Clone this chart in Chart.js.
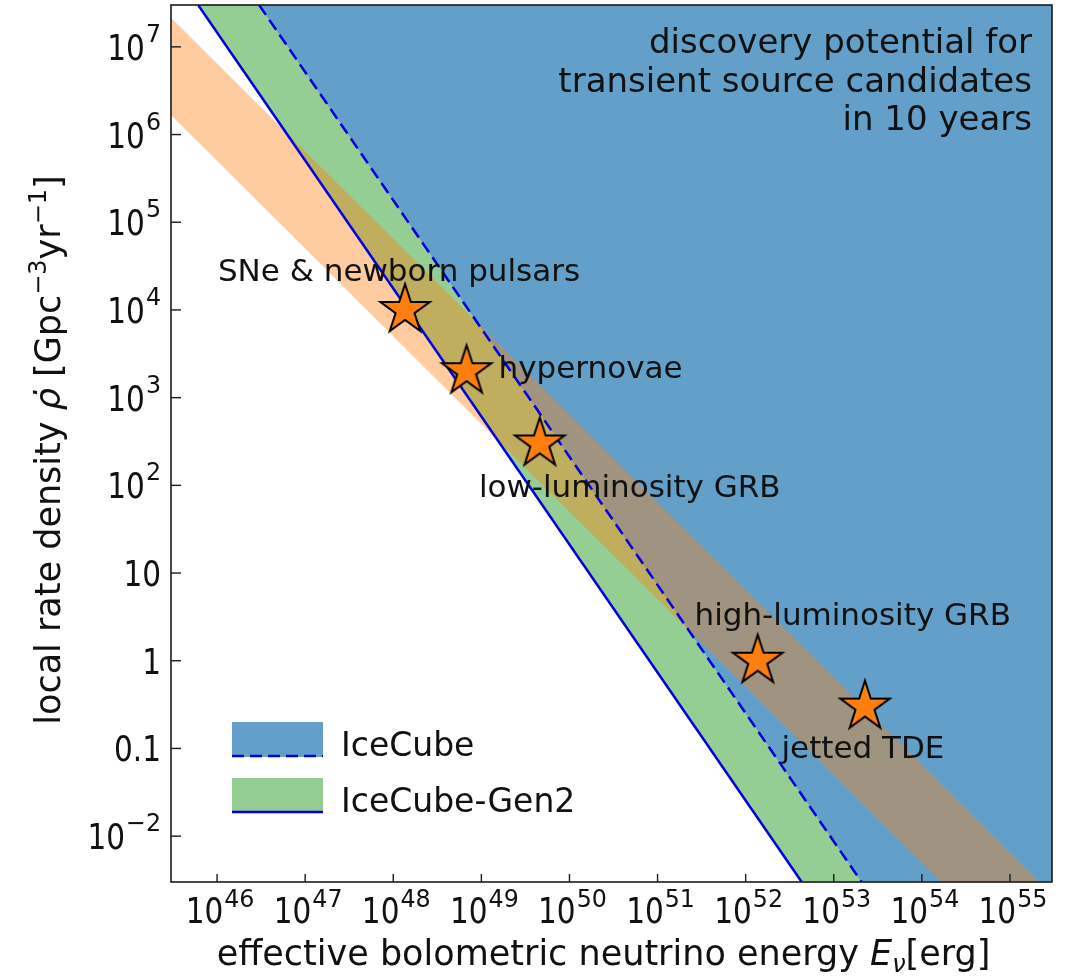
<!DOCTYPE html>
<html>
<head>
<meta charset="utf-8">
<script src="https://cdn.jsdelivr.net/npm/chart.js@4.4.0/dist/chart.umd.min.js"></script>
<style>
  body { margin: 0; background: #fff; }
</style>
</head>
<body>
<canvas id="myChart" width="1066" height="980"></canvas>
<script>
// axis limits
var xLimits = [3e45, 3e55];
var yLimits = [3e-3, 3e7];

// decade ticks
var xTickExps = [46, 47, 48, 49, 50, 51, 52, 53, 54, 55];
var yTickValues = [1e7, 1e6, 1e5, 1e4, 1e3, 1e2, 10, 1, 0.1, 1e-2];
var yTickLabels = [['10', '7'], ['10', '6'], ['10', '5'], ['10', '4'], ['10', '3'], ['10', '2'],
                   ['10', ''], ['1', ''], ['0.1', ''], ['10', '\u22122']];

// source classes (stars)
var sourceNames = ['SNe & newborn pulsars', 'hypernovae', 'low-luminosity GRB', 'high-luminosity GRB', 'jetted TDE'];
var sourceEnergy = [1.36e48, 6.8e48, 4.6e49, 1.37e52, 2.26e53];
var sourceRate = [1e4, 2e3, 3e2, 1, 0.3];

// discovery potential lines, where they cross top and bottom of the plot
var gen2Energy = [6.1e45, 4.33e52];
var gen2Rate = [3e7, 3e-3];
var icecubeEnergy = [3.0e46, 2.07e53];
var icecubeRate = [3e7, 3e-3];

// source population band (upper / lower edge)
var bandEnergy = [3e45, 3e55];
var bandUpper = [2.15e7, 2.15e-3];
var bandLower = [1.67e6, 1.67e-4];

var noteLines = ['discovery potential for', 'transient source candidates', 'in 10 years'];

function pts(xs, ys) {
  return xs.map(function (x, i) { return { x: x, y: ys[i] }; });
}

var FONT = "'DejaVu Sans'";
var blueFill = 'rgb(98,160,202)';
var greenFill = 'rgb(149,206,147)';
var lineBlue = '#0000e0';

function makeStar(R) {
  var c = document.createElement('canvas');
  var s = Math.ceil(R * 2 + 8);
  c.width = s; c.height = s;
  var g = c.getContext('2d');
  g.beginPath();
  for (var i = 0; i < 10; i++) {
    var r = i % 2 === 0 ? R : R * 0.382;
    var a = -Math.PI / 2 + i * Math.PI / 5;
    var px = s / 2 + r * Math.cos(a), py = s / 2 + r * Math.sin(a);
    if (i === 0) g.moveTo(px, py); else g.lineTo(px, py);
  }
  g.closePath();
  g.fillStyle = '#ff7f0e';
  g.fill();
  g.lineWidth = 2;
  g.lineJoin = 'miter';
  g.strokeStyle = '#000';
  g.stroke();
  return c;
}

function txt(ctx, s, x, y, font, align, sx) {
  ctx.save();
  ctx.font = font;
  ctx.textAlign = align || 'left';
  ctx.textBaseline = 'alphabetic';
  ctx.fillStyle = '#111';
  ctx.translate(x, y);
  if (sx) ctx.scale(sx, 1);
  ctx.fillText(s, 0, 0);
  ctx.restore();
}

// runs: [text, font, dy]
function runs(ctx, list, x, y, align) {
  var w = 0;
  list.forEach(function (r) { ctx.font = r[1]; w += ctx.measureText(r[0]).width; });
  var cx = align === 'center' ? x - w / 2 : x;
  list.forEach(function (r) {
    txt(ctx, r[0], cx, y + (r[2] || 0), r[1], 'left');
    ctx.font = r[1];
    cx += ctx.measureText(r[0]).width;
  });
}

var mainF = '36px ' + FONT, supF = '25px ' + FONT;
var mainSX = 0.82, supSX = 0.95;
function tickLabel(ctx, base, sup, x, yBase, ySup, align) {
  ctx.font = mainF;
  var w1 = ctx.measureText(base).width * mainSX;
  ctx.font = supF;
  var w2 = sup ? ctx.measureText(sup).width * supSX + 1 : 0;
  var start = align === 'center' ? x - (w1 + w2) / 2 : x - (w1 + w2);
  txt(ctx, base, start, yBase, mainF, 'left', mainSX);
  if (sup) txt(ctx, sup, start + w1 + 1, ySup, supF, 'left', supSX);
}

// label offsets from the star centres [dx, dy, align]
var labelOffsets = [[-6, -29, 'center'], [32, 7, 'left'], [90, 53, 'center'], [95, -36, 'center'], [-2, 51, 'center']];

var decor = {
  id: 'decor',
  afterDraw: function (chart) {
    var ctx = chart.ctx, a = chart.chartArea;
    var xs = chart.scales.x, ys = chart.scales.y;

    // frame
    ctx.save();
    ctx.strokeStyle = '#1a1a1a';
    ctx.lineWidth = 1.6;
    ctx.strokeRect(a.left, a.top, a.right - a.left, a.bottom - a.top);
    ctx.lineWidth = 1.4;
    xTickExps.forEach(function (e) {
      var px = xs.getPixelForValue(Math.pow(10, e));
      ctx.beginPath(); ctx.moveTo(px, a.bottom); ctx.lineTo(px, a.bottom - 8); ctx.stroke();
    });
    yTickValues.forEach(function (v) {
      var py = ys.getPixelForValue(v);
      ctx.beginPath(); ctx.moveTo(a.left, py); ctx.lineTo(a.left + 10, py); ctx.stroke();
    });
    ctx.restore();

    // tick labels
    xTickExps.forEach(function (e) {
      var px = xs.getPixelForValue(Math.pow(10, e));
      tickLabel(ctx, '10', String(e), px + 3, a.bottom + 41, a.bottom + 25, 'center');
    });
    yTickValues.forEach(function (v, i) {
      var py = ys.getPixelForValue(v);
      tickLabel(ctx, yTickLabels[i][0], yTickLabels[i][1], a.left - 10, py + 13, py - 5, 'right');
    });

    // axis titles
    var tf = '35px ' + FONT, tfi = 'italic 35px ' + FONT, ts = '24px ' + FONT, tsi = 'italic 24px ' + FONT;
    runs(ctx, [['effective bolometric neutrino energy ', tf], ['E', tfi], ['\u03bd', tsi, 7], ['[erg]', tf]],
         (a.left + a.right) / 2 - 8, 965, 'center');
    ctx.save();
    ctx.translate(60, 450);
    ctx.rotate(-Math.PI / 2);
    runs(ctx, [['local rate density ', tf], ['\u03c1\u0307', tfi], [' [Gpc', tf], ['\u22123', ts, -14],
               ['yr', tf], ['\u22121', ts, -14], [']', tf]], 0, 0, 'center');
    ctx.restore();

    // note in the top right
    noteLines.forEach(function (s, i) {
      txt(ctx, s, a.right - 20, a.top + 48 + i * 38.5, '34px ' + FONT, 'right');
    });

    // source labels
    sourceNames.forEach(function (s, i) {
      var px = xs.getPixelForValue(sourceEnergy[i]), py = ys.getPixelForValue(sourceRate[i]);
      var o = labelOffsets[i];
      txt(ctx, s, px + o[0], py + o[1], '31px ' + FONT, o[2]);
    });

    // legend
    var lx = a.left + 61, lw = 91;
    var entries = [[blueFill, [12, 6], 'IceCube', 722], [greenFill, [], 'IceCube-Gen2', 778]];
    entries.forEach(function (en) {
      ctx.save();
      ctx.fillStyle = en[0];
      ctx.fillRect(lx, en[3], lw, 35);
      ctx.strokeStyle = lineBlue;
      ctx.lineWidth = 2.5;
      ctx.setLineDash(en[1]);
      ctx.beginPath(); ctx.moveTo(lx, en[3] + 34); ctx.lineTo(lx + lw, en[3] + 34); ctx.stroke();
      ctx.restore();
      txt(ctx, en[2], lx + 109, en[3] + 34, '33px ' + FONT, 'left');
    });
  }
};

function noPad(s) {
  s.paddingTop = 0; s.paddingBottom = 0; s.paddingLeft = 0; s.paddingRight = 0;
}

var lastPoint = { x: xLimits[1], y: yLimits[0] };
var ctx = document.getElementById('myChart').getContext('2d');
var myChart = new Chart(ctx, {
  type: 'line',
  data: {
    datasets: [{
        label: 'sources',
        data: pts(sourceEnergy, sourceRate),
        showLine: false,
        pointStyle: makeStar(26),
        pointRadius: 20,
        order: 1
      }, {
        label: 'IceCube-Gen2',
        data: pts(gen2Energy, gen2Rate),
        borderColor: lineBlue,
        borderWidth: 2.5,
        pointRadius: 0,
        fill: false,
        order: 2
      }, {
        label: 'IceCube',
        data: pts(icecubeEnergy, icecubeRate),
        borderColor: lineBlue,
        borderWidth: 2.5,
        borderDash: [12, 6],
        pointRadius: 0,
        fill: false,
        order: 3
      }, {
        label: 'band',
        data: pts(bandEnergy, bandUpper),
        borderColor: 'transparent',
        borderWidth: 0,
        pointRadius: 0,
        backgroundColor: 'rgba(255,127,14,0.4)',
        fill: '+1',
        order: 4
      }, {
        label: 'band lower',
        data: pts(bandEnergy, bandLower),
        borderColor: 'transparent',
        borderWidth: 0,
        pointRadius: 0,
        fill: false,
        order: 5
      }, {
        label: 'IceCube region',
        data: pts(icecubeEnergy, icecubeRate).concat([lastPoint]),
        borderColor: 'transparent',
        borderWidth: 0,
        pointRadius: 0,
        backgroundColor: blueFill,
        fill: 'end',
        order: 6
      }, {
        label: 'Gen2 region',
        data: pts(gen2Energy, gen2Rate).concat([lastPoint]),
        borderColor: 'transparent',
        borderWidth: 0,
        pointRadius: 0,
        backgroundColor: greenFill,
        fill: 'end',
        order: 7
      }
    ]
  },
  options: {
    responsive: false,
    animation: false,
    layout: { autoPadding: false, padding: { top: 5, right: 14, left: 0, bottom: 0 } },
    elements: { line: { tension: 0 } },
    plugins: {
      legend: { display: false },
      tooltip: { enabled: false }
    },
    scales: {
      x: {
        type: 'logarithmic',
        min: xLimits[0],
        max: xLimits[1],
        ticks: { display: false },
        grid: { display: false },
        border: { display: false },
        afterFit: function (s) { s.height = 98; noPad(s); }
      },
      y: {
        type: 'logarithmic',
        min: yLimits[0],
        max: yLimits[1],
        ticks: { display: false },
        grid: { display: false },
        border: { display: false },
        afterFit: function (s) { s.width = 171; noPad(s); }
      }
    }
  },
  plugins: [decor]
});
</script>
</body>
</html>
